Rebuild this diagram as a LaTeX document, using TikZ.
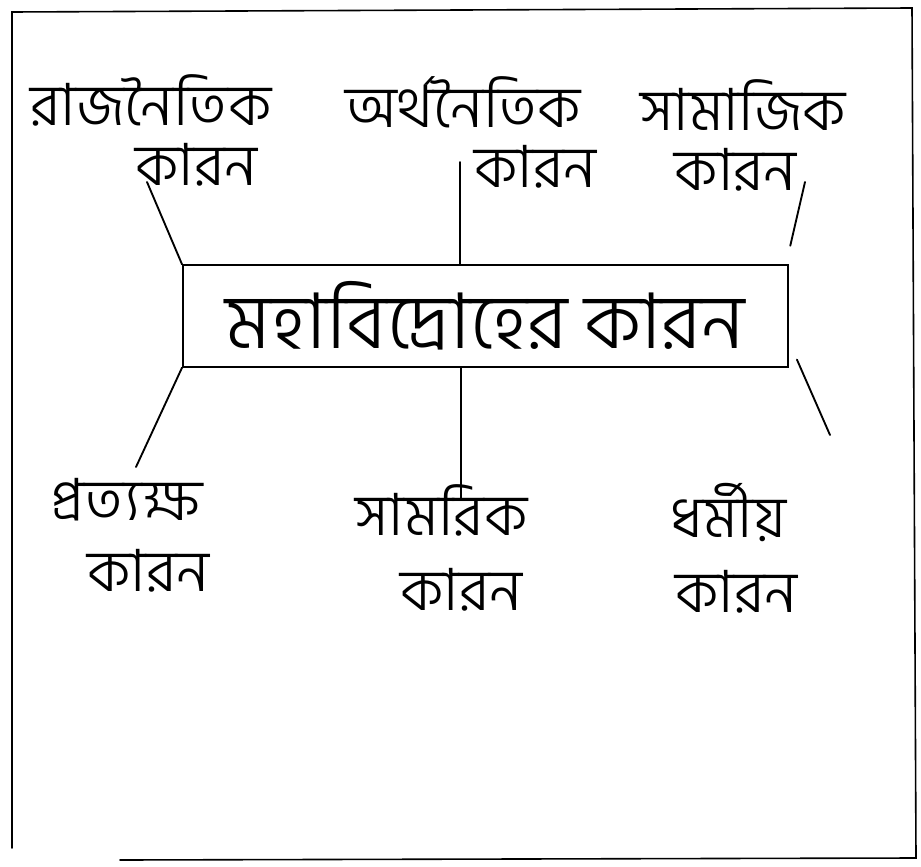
\documentclass[tikz,border=0pt]{standalone}
\usepackage{fontspec}
\newfontfamily\bn[Script=Bengali]{Hind Siliguri Light}
\begin{document}
\begin{tikzpicture}[x=0.75pt,y=-0.75pt,
  lbl/.style={font=\bn\fontsize{44}{45}\selectfont, inner sep=0pt, align=left, anchor=west},
  ln/.style={line width=1.4pt, line cap=round},
  frame/.style={line width=1.2pt, line cap=round}]
\useasboundingbox (0,0) rectangle (921,867);
% outer frame
\coordinate (f1) at (12,12);
\coordinate (f2) at (912,8);
\coordinate (f3) at (916,858);
\coordinate (f4) at (120,860);
\coordinate (f5) at (12,848);
\draw[frame] (f5) -- (f1) -- (f2) -- (f3) -- (f4);
% center box
\node[draw, line width=1.4pt, minimum width=453.75pt, minimum height=76pt, inner sep=0pt,
      font=\bn\fontsize{58}{64}\selectfont] (c) at (485.5,316) {মহাবিদ্রোহের কারন};
% labels
\node[lbl] (t1) at (30,130) {রাজনৈতিক\\\hspace*{79pt}কারন};
\node[lbl] (t2) at (345,132) {অর্থনৈতিক\\\hspace*{97pt}কারন};
\node[lbl] (t3) at (640,135) {সামাজিক\\\hspace*{26pt}কারন};
\node[lbl] (b1) at (50,535) {প্রত্যক্ষ\\[8pt]\hspace*{28pt}কারন};
\node[lbl] (b2) at (355,548) {সামরিক\\[11pt]\hspace*{34pt}কারন};
\node[lbl] (b3) at (670,548) {ধর্মীয়\\[11pt]\hspace*{4pt}কারন};
% connector ends
\coordinate (e1) at (147,182);
\coordinate (e2) at (460,162);
\coordinate (e3) at (805,182);
\coordinate (e4) at (136,467);
\coordinate (e5) at (461,498);
\coordinate (e6) at (830,435);
\draw[ln] (c.north west) -- (e1);
\draw[ln] (c.north west -| e2) -- (e2);
\draw[ln] ([xshift=1pt,yshift=14pt]c.north east) -- (e3);
\draw[ln] (c.south west) -- (e4);
\draw[ln] (c.south west -| e5) -- (e5);
\draw[ln] ([xshift=6pt,yshift=6pt]c.south east) -- (e6);
\end{tikzpicture}
\end{document}
